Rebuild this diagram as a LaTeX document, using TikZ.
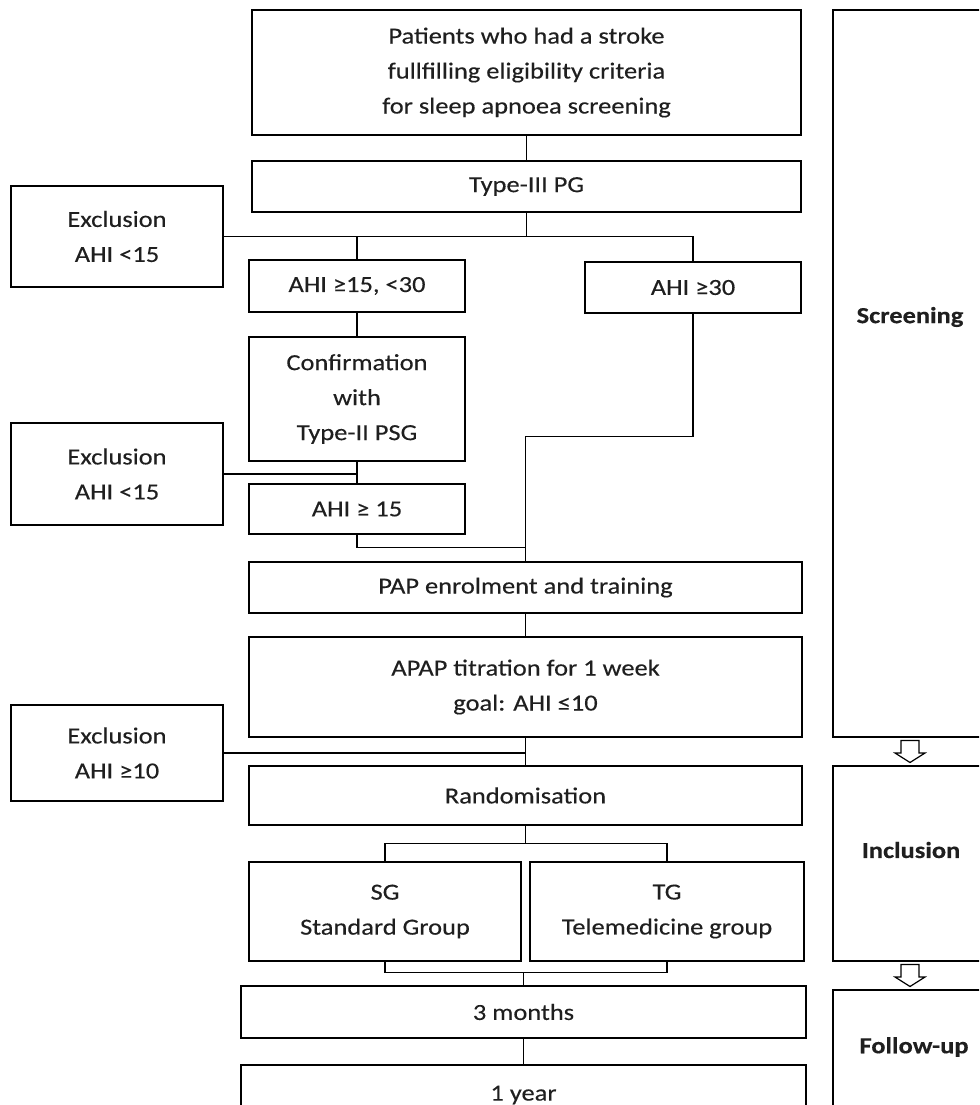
\documentclass[tikz,border=0pt]{standalone}
\usepackage{fontspec}
\setmainfont{Carlito}[FakeStretch=1.15,FakeBold=0.3]
\usetikzlibrary{calc}
\tikzset{
  box/.style={draw, line width=1.2pt, inner sep=0pt, align=center,
    text=black!88, font=\fontsize{17.25}{26.25}\selectfont},
  size/.style 2 args={minimum width={#1*0.75pt}, minimum height={#2*0.75pt}},
  phase/.style={text=black!88, font=\fontsize{17.25}{26.25}\selectfont\bfseries},
  link/.style={line width=0.9pt}
}

\begin{document}
\begin{tikzpicture}[x=0.75pt,y=-0.75pt]
  \useasboundingbox (0,0) rectangle (979,1105);
  \clip (0,0) rectangle (979,1105);

  % main column
  \node[box, size={549}{125}] (top) at (526.5,72.5) {Patients who had a stroke\\fullfilling eligibility criteria\\for sleep apnoea screening};
  \node[box, size={549}{51}] (typeiii) at (526.5,186.5) {Type-III PG};
  \node[box, size={212}{101}] (excl1) at (117,236.5) {Exclusion\\AHI <15};
  \node[box, size={216}{52}] (mid) at (357,286) {AHI ≥15, <30};
  \node[box, size={216}{51}] (high) at (693,287.5) {AHI ≥30};
  \node[box, size={216}{124}] (confirm) at (357,399) {Confirmation\\with\\Type-II PSG};
  \node[box, size={212}{102}] (excl2) at (117,474) {Exclusion\\AHI <15};
  \node[box, size={216}{50}] (ahi15) at (357,509) {AHI ≥ 15};
  \node[box, size={553}{51}] (pap) at (525.5,587.5) {PAP enrolment and training};
  \node[box, size={553}{100}] (apap) at (525.5,687) {APAP titration for 1 week\\goal: AHI ≤10};
  \node[box, size={212}{96}] (excl3) at (117,753) {Exclusion\\AHI ≥10};
  \node[box, size={553}{59}] (rand) at (525.5,795.5) {Randomisation};
  \node[box, size={272}{99}] (sg) at (385,911.5) {SG\\Standard Group};
  \node[box, size={274}{99}] (tg) at (667,911.5) {TG\\Telemedicine group};
  \node[box, size={565}{52}] (m3) at (523.5,1012) {3 months};
  \node[box, size={565}{60}] (y1) at (523.5,1095) {1 year};

  % phase column
  \node[box, size={154}{727}] (screening) at (910,373.5) {};
  \node[box, size={154}{195}] (inclusion) at (910,863.5) {};
  \node[box, size={154}{150}] (followup) at (910,1065) {};
  \node[phase] (screenlbl) at (910,317) {Screening};
  \node[phase] (incllbl) at (911,850) {Inclusion};
  \node[phase] (followlbl) at (914,1047) {Follow-up};

  % connectors
  \draw[link] (top.south) -- (typeiii.north);
  \coordinate (split1) at (typeiii.south |- excl1.east);
  \draw[link] (typeiii.south) -- (split1);
  \draw[link] (excl1.east) -| (high.north);
  \draw[link] (mid.north) -- (mid.north |- excl1.east);
  \draw[link] (mid.south) -- (confirm.north);
  \draw[link] (confirm.south) -- (ahi15.north);
  \draw[link] (excl2.east) -- (excl2.east -| confirm.south);
  \path (pap.north) ++(0,-14) coordinate (join1);
  \path (pap.north) ++(0,-125) coordinate (join2);
  \draw[link] (ahi15.south) |- (join1) -- (pap.north);
  \draw[link] (high.south) |- (join2) -- (join1);
  \draw[link] (pap.south) -- (apap.north);
  \draw[link] (apap.south) -- (rand.north);
  \draw[link] (excl3.east) -- (excl3.east -| apap.south);
  \path (rand.south) ++(0,18) coordinate (split2);
  \draw[link] (rand.south) -- (split2);
  \draw[link] (sg.north) |- (split2) -| (tg.north);
  \path (m3.north) ++(0,-13) coordinate (join3);
  \draw[link] (sg.south) |- (join3) -| (tg.south);
  \draw[link] (join3) -- (m3.north);
  \draw[link] (m3.south) -- (y1.north);

  % hollow arrows between phases
  \foreach \from/\to in {screening/inclusion, inclusion/followup}
    \draw[link] ($(\from.south)!0.5!(\to.north)$) ++(-9,-11) -- ++(0,12.5) -- ++(-6,0)
      -- ++(15,9.5) -- ++(15,-9.5) -- ++(-6,0) -- ++(0,-12.5) -- cycle;
\end{tikzpicture}
\end{document}
